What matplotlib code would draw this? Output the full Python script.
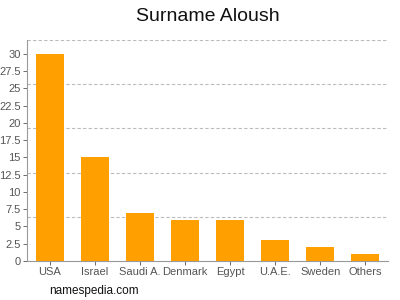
import numpy as np
import matplotlib.pyplot as plt

plt.rcParams["font.family"] = ["Liberation Sans", "DejaVu Sans"]

countries = ["USA", "Israel", "Saudi A.", "Denmark", "Egypt", "U.A.E.", "Sweden", "Others"]
counts = [30, 15, 7, 6, 6, 3, 2, 1]
y_ticks = [0, 2.5, 5, 7.5, 10, 12.5, 15, 17.5, 20, 22.5, 25, 27.5, 30]
y_ticklabels = ["0", "2.5", "5", "7.5", "10", "12.5", "15", "17.5", "20", "22.5", "25", "27.5", "30"]

fig = plt.figure(figsize=(4, 3), dpi=100)
ax = fig.add_axes([0.0675, 0.13, 0.9025, 0.7367])

x = np.arange(len(countries))
ax.bar(x, counts, width=0.62, color="#FFA000", zorder=3)

ax.set_xlim(-0.5, len(countries) - 0.5)
ax.set_ylim(0, 32)
for g in np.linspace(0, 32, 6)[1:]:
    ax.axhline(g, color="#bbbbbb", linestyle=(0, (3, 2)), linewidth=0.8, zorder=1)

ax.set_yticks(y_ticks)
ax.set_yticklabels(y_ticklabels)
ax.set_xticks(x)
ax.set_xticklabels(countries)
ax.tick_params(axis="both", labelsize=8, colors="#555555", length=3, width=0.6, pad=1.5)

for s in ["top", "right"]:
    ax.spines[s].set_visible(False)
for s in ["left", "bottom"]:
    ax.spines[s].set_color("#999999")
    ax.spines[s].set_linewidth(0.8)

fig.text(0.52, 0.945, "Surname Aloush", ha="center", va="center", fontsize=14, color="#111111")
fig.text(0.123, 0.03, "namespedia.com", ha="left", va="center", fontsize=8.5, color="#111111")

fig.savefig("out.png", dpi=100)
